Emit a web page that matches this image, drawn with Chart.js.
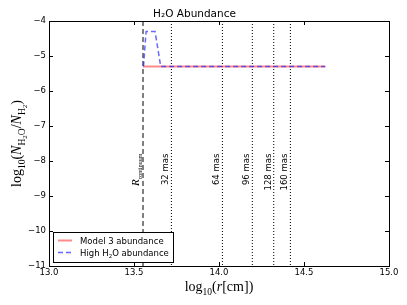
<!DOCTYPE html>
<html>
<head>
<meta charset="utf-8">
<script src="https://cdn.jsdelivr.net/npm/chart.js@4"></script>
<style>
  html, body { margin: 0; padding: 0; background: #fff; }
  #wrap { width: 407px; height: 305px; }
</style>
</head>
<body>
<div id="wrap"><canvas id="chart-h2o"></canvas></div>
<script>
// —— data
const xTicks = [13.0, 13.5, 14.0, 14.5, 15.0];
const yTicks = [-4, -5, -6, -7, -8, -9, -10, -11];

const model3R = [13.553, 14.625];
const model3Ab = [-5.3, -5.3];

const highR = [13.556, 13.571, 13.624, 13.657, 14.625];
const highAb = [-5.3, -4.3, -4.3, -5.3, -5.3];

const rContinuum = 13.553;
const masRadii = [13.72, 14.02, 14.196, 14.322, 14.42];
const masLabels = ['32 mas', '64 mas', '96 mas', '128 mas', '160 mas'];
const labelTop = -7.79;

const SANS = '"DejaVu Sans", sans-serif';
const SERIF = '"Liberation Serif", "DejaVu Serif", serif';

const pts = (xs, ys) => xs.map((x, i) => ({ x, y: ys[i] }));

const vertDatasets = [
    {
        label: 'R_continuum',
        data: [{ x: rContinuum, y: -4 }, { x: rContinuum, y: -11 }],
        borderColor: '#000',
        borderWidth: 1,
        borderDash: [5, 3],
        order: 3,
    },
    ...masRadii.map((r, i) => ({
        label: masLabels[i],
        data: [{ x: r, y: -4 }, { x: r, y: -11 }],
        borderColor: '#000',
        borderWidth: 1,
        borderDash: [1, 2],
        order: 3,
    })),
];

// draw a run of text pieces (font / vertical offset) along the baseline
function drawRich(ctx, parts, x, y, rot, align) {
    ctx.save();
    ctx.translate(x, y);
    ctx.rotate(rot);
    let total = 0;
    parts.forEach((p) => {
        ctx.font = p.font;
        p.w = ctx.measureText(p.t).width;
        total += p.w;
    });
    let cx = align === 'center' ? -total / 2 : align === 'right' ? -total : 0;
    ctx.textAlign = 'left';
    ctx.textBaseline = 'alphabetic';
    ctx.fillStyle = '#000';
    parts.forEach((p) => {
        ctx.font = p.font;
        ctx.fillText(p.t, cx, p.dy || 0);
        cx += p.w;
    });
    ctx.restore();
}

const frame = {
    id: 'frame',
    afterDatasetsDraw(chart) {
        const { ctx, chartArea: a, scales } = chart;
        const xs = scales.x, ys = scales.y;
        ctx.save();

        // axes box
        ctx.strokeStyle = '#000';
        ctx.lineWidth = 1;
        ctx.strokeRect(Math.round(a.left) + 0.5, Math.round(a.top) + 0.5,
            Math.round(a.right - a.left), Math.round(a.bottom - a.top));

        // inward ticks on all sides
        const tl = 4;
        ctx.beginPath();
        xTicks.forEach((v) => {
            const px = Math.round(xs.getPixelForValue(v)) + 0.5;
            ctx.moveTo(px, a.bottom); ctx.lineTo(px, a.bottom - tl);
            ctx.moveTo(px, a.top); ctx.lineTo(px, a.top + tl);
        });
        yTicks.forEach((v) => {
            const py = Math.round(ys.getPixelForValue(v)) + 0.5;
            ctx.moveTo(a.left, py); ctx.lineTo(a.left + tl, py);
            ctx.moveTo(a.right, py); ctx.lineTo(a.right - tl, py);
        });
        ctx.stroke();

        // rotated labels beside the vertical lines
        const top = ys.getPixelForValue(labelTop);
        ctx.fillStyle = '#000';
        masRadii.forEach((r, i) => {
            const px = xs.getPixelForValue(r) - 1;
            ctx.save();
            ctx.translate(px, top);
            ctx.rotate(-Math.PI / 2);
            ctx.font = `8.5px ${SANS}`;
            ctx.textAlign = 'right';
            ctx.textBaseline = 'bottom';
            ctx.fillText(masLabels[i], 0, 0);
            ctx.restore();
        });
        const rc = xs.getPixelForValue(rContinuum);
        drawRich(ctx, [
            { t: 'R', font: `italic 11px ${SERIF}` },
            { t: 'continuum', font: `6px ${SERIF}`, dy: 2.5 },
        ], rc - 4, top, -Math.PI / 2, 'right');

        // legend (lower left, inside axes)
        const lx = a.left + 4, ly = a.bottom - 34, lw = 120, lh = 30;
        ctx.fillStyle = '#fff';
        ctx.fillRect(lx, ly, lw, lh);
        ctx.strokeStyle = '#000';
        ctx.strokeRect(Math.round(lx) + 0.5, Math.round(ly) + 0.5, lw, lh);
        const rows = [
            { ds: chart.data.datasets[1], parts: [{ t: 'Model 3 abundance', font: `8.5px ${SANS}` }] },
            {
                ds: chart.data.datasets[0],
                parts: [
                    { t: 'High H', font: `8.5px ${SANS}` },
                    { t: '2', font: `5.5px ${SANS}`, dy: 2 },
                    { t: 'O abundance', font: `8.5px ${SANS}` },
                ],
            },
        ];
        rows.forEach((row, i) => {
            const yy = ly + 8.5 + i * 12;
            ctx.save();
            ctx.strokeStyle = row.ds.borderColor;
            ctx.lineWidth = row.ds.borderWidth;
            ctx.setLineDash(row.ds.borderDash || []);
            ctx.beginPath();
            ctx.moveTo(lx + 5, yy);
            ctx.lineTo(lx + 19, yy);
            ctx.stroke();
            ctx.restore();
            drawRich(ctx, row.parts, lx + 27, yy + 3.5, 0, 'left');
        });

        // axis titles
        drawRich(ctx, [
            { t: 'log', font: `14px ${SERIF}` },
            { t: '10', font: `9.5px ${SERIF}`, dy: 3.5 },
            { t: '(', font: `14px ${SERIF}` },
            { t: 'r', font: `italic 14px ${SERIF}` },
            { t: '[cm])', font: `14px ${SERIF}` },
        ], (a.left + a.right) / 2, 291, 0, 'center');

        drawRich(ctx, [
            { t: 'log', font: `14px ${SERIF}` },
            { t: '10', font: `9.5px ${SERIF}`, dy: 3.5 },
            { t: '(', font: `14px ${SERIF}` },
            { t: 'N', font: `italic 14px ${SERIF}` },
            { t: 'H', font: `9.5px ${SERIF}`, dy: 3.5 },
            { t: '2', font: `7px ${SERIF}`, dy: 5.5 },
            { t: 'O', font: `9.5px ${SERIF}`, dy: 3.5 },
            { t: '/', font: `14px ${SERIF}` },
            { t: 'N', font: `italic 14px ${SERIF}` },
            { t: 'H', font: `9.5px ${SERIF}`, dy: 3.5 },
            { t: '2', font: `7px ${SERIF}`, dy: 5.5 },
            { t: ')', font: `14px ${SERIF}` },
        ], 21, (a.top + a.bottom) / 2, -Math.PI / 2, 'center');

        ctx.restore();
    },
};

const canvas = document.getElementById('chart-h2o');
const ctx = canvas.getContext('2d');
new Chart(ctx, {
    type: 'scatter',
    data: {
        datasets: [
            {
                label: 'High H2O abundance',
                data: pts(highR, highAb),
                borderColor: 'rgba(40, 40, 255, 0.7)',
                borderWidth: 1.5,
                borderDash: [5, 3],
                order: 0,
            },
            {
                label: 'Model 3 abundance',
                data: pts(model3R, model3Ab),
                borderColor: 'rgba(255, 60, 60, 0.6)',
                borderWidth: 2,
                order: 1,
            },
            ...vertDatasets,
        ].map((d) => ({ ...d, showLine: true, pointRadius: 0, pointHoverRadius: 0, tension: 0, fill: false })),
    },
    options: {
        responsive: true,
        maintainAspectRatio: false,
        animation: false,
        layout: { padding: { left: 0, right: 18, top: 0, bottom: 0 } },
        plugins: {
            legend: { display: false },
            tooltip: { enabled: false },
            title: {
                display: true,
                text: 'H₂O Abundance',
                color: '#000',
                font: { family: SANS, size: 10.5, weight: 'normal', lineHeight: 1 },
                padding: { top: 9, bottom: 1.5 },
            },
        },
        scales: {
            x: {
                type: 'linear',
                min: 13,
                max: 15,
                afterBuildTicks: (s) => { s.ticks = xTicks.map((v) => ({ value: v })); },
                afterFit: (s) => { s.height = 39; },
                grid: { display: false, drawTicks: false },
                border: { display: false },
                ticks: {
                    color: '#000',
                    font: { family: SANS, size: 8.5 },
                    padding: 2,
                    maxRotation: 0,
                    callback: (v) => Number(v).toFixed(1),
                },
            },
            y: {
                type: 'linear',
                min: -11,
                max: -4,
                afterBuildTicks: (s) => { s.ticks = yTicks.map((v) => ({ value: v })); },
                afterFit: (s) => { s.width = 49; },
                grid: { display: false, drawTicks: false },
                border: { display: false },
                ticks: {
                    color: '#000',
                    font: { family: SANS, size: 8.5 },
                    padding: 3,
                    callback: (v) => (v < 0 ? '\u2212' + Math.abs(v) : String(v)),
                },
            },
        },
    },
    plugins: [frame],
});
</script>
</body>
</html>
